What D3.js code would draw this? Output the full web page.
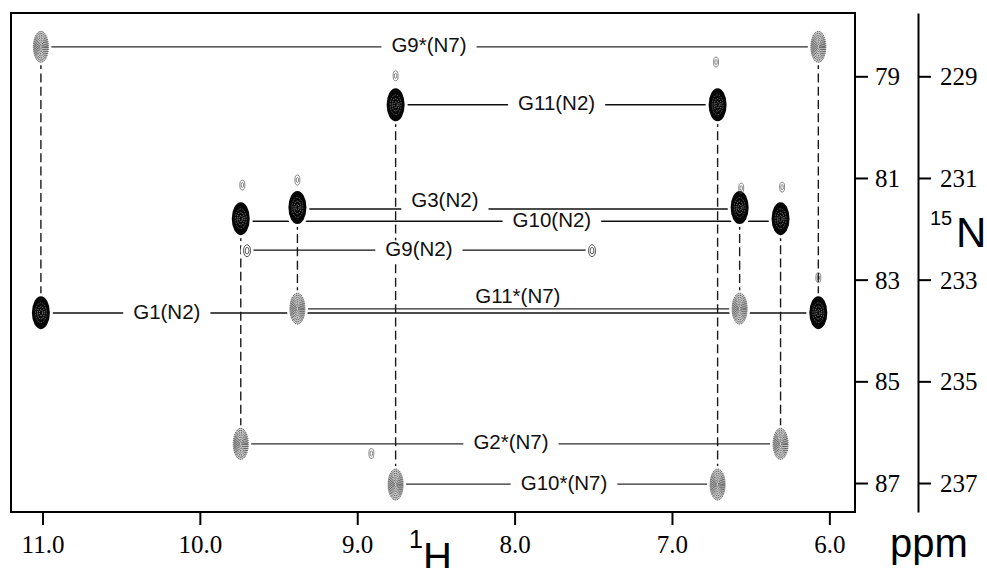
<!DOCTYPE html>
<html><head><meta charset="utf-8">
<script src="https://cdn.jsdelivr.net/npm/d3@7"></script>
<style>body{margin:0;background:#fff;} svg{display:block;}</style>
</head><body>
<svg id="c" width="987" height="568"></svg>
<script>
// ---------------- data ----------------
const hTicks = [11.0, 10.0, 9.0, 8.0, 7.0, 6.0];      // 1H ppm
const nTicks = [79, 81, 83, 85, 87];                  // 15N ppm (referenced)
const nTicksAlt = [229, 231, 233, 235, 237];          // 15N ppm (alternate scale)
const nAltOffset = 150;
const hExtent = [11.2, 5.837];
const nExtent = [77.755, 87.57];

// cross peaks: 1H shift, 15N shift, contour level
const peaks = [
  {id:"G9*a",  h:11.01, n:78.42, level:"weak"},
  {id:"G9*b",  h:6.07,  n:78.42, level:"weak"},
  {id:"G11a",  h:8.756, n:79.56, level:"strong"},
  {id:"G11b",  h:6.71,  n:79.56, level:"strong"},
  {id:"G3a",   h:9.38,  n:81.58, level:"strong"},
  {id:"G3b",   h:6.57,  n:81.58, level:"strong"},
  {id:"G10a",  h:9.74,  n:81.80, level:"strong"},
  {id:"G10b",  h:6.31,  n:81.80, level:"strong"},
  {id:"G9a",   h:9.70,  n:82.43, level:"faint"},
  {id:"G9b",   h:7.508, n:82.43, level:"faint"},
  {id:"G1a",   h:11.01, n:83.65, level:"strong"},
  {id:"G1b",   h:6.07,  n:83.65, level:"strong"},
  {id:"G11*a", h:9.38,  n:83.57, level:"weak"},
  {id:"G11*b", h:6.57,  n:83.57, level:"weak"},
  {id:"G2*a",  h:9.74,  n:86.23, level:"weak"},
  {id:"G2*b",  h:6.31,  n:86.23, level:"weak"},
  {id:"G10*a", h:8.756, n:87.03, level:"weak"},
  {id:"G10*b", h:6.71,  n:87.03, level:"weak"}
];
// minor unassigned peaks
const traces = [
  {h:8.756, n:78.99}, {h:6.72, n:78.72}, {h:9.73, n:81.14}, {h:9.38, n:81.04},
  {h:6.56, n:81.20}, {h:6.30, n:81.18}, {h:6.07, n:82.96}, {h:8.91, n:86.42}
];
// horizontal assignment connectors
const links = [
  {label:"G9*(N7)",  a:"G9*a",  b:"G9*b",  n:78.42,  labelH:8.544, labelN:78.42},
  {label:"G11(N2)",  a:"G11a",  b:"G11b",  n:79.56,  labelH:7.733, labelN:79.56},
  {label:"G3(N2)",   a:"G3a",   b:"G3b",   n:81.61,  labelH:8.443, labelN:81.47},
  {label:"G10(N2)",  a:"G10a",  b:"G10b",  n:81.85,  labelH:7.763, labelN:81.85},
  {label:"G9(N2)",   a:"G9a",   b:"G9b",   n:82.42,  labelH:8.608, labelN:82.42},
  {label:"G11*(N7)", a:"G11*a", b:"G11*b", n:83.575, labelH:7.979, labelN:83.36},
  {label:"G1(N2)",   a:"G1a",   b:"G1b",   n:83.655, labelH:10.21, labelN:83.66},
  {label:"G2*(N7)",  a:"G2*a",  b:"G2*b",  n:86.23,  labelH:8.023, labelN:86.22},
  {label:"G10*(N7)", a:"G10*a", b:"G10*b", n:87.02,  labelH:7.686, labelN:87.02}
];
// vertical dashed connectors (same proton)
const verticals = [
  ["G9*a","G1a"], ["G11a","G10*a"], ["G11b","G10*b"], ["G9*b","G1b"],
  ["G10a","G2*a"], ["G3a","G11*a"], ["G3b","G11*b"], ["G10b","G2*b"]
];

// ---------------- drawing ----------------
const svg = d3.select("#c");
const L = 11, T = 13, R = 855, B = 512;
const x = d3.scaleLinear().domain(hExtent).range([L, R]);
const y = d3.scaleLinear().domain(nExtent).range([T, B]);
const y2 = d3.scaleLinear().domain(nExtent.map(d => d + nAltOffset)).range([T, B]);
const byId = new Map(peaks.map(p => [p.id, p]));
const size = {strong:[9,16.5], weak:[7.5,15.5], faint:[3.5,6], trace:[2.5,5]};
const SANS = '"Liberation Sans"';
const SERIF = '"Liberation Serif"';

const gLines = svg.append("g");
links.forEach(l => {
  const pa = byId.get(l.a), pb = byId.get(l.b);
  const star = l.label.includes("*");
  gLines.append("line")
    .attr("x1", x(pa.h)).attr("x2", x(pb.h))
    .attr("y1", y(l.n)).attr("y2", y(l.n))
    .attr("stroke", star ? "#2a2a2a" : "#111")
    .attr("stroke-width", star ? 1.2 : 1.4);
});
verticals.forEach(([a, b]) => {
  const pa = byId.get(a), pb = byId.get(b);
  gLines.append("line")
    .attr("x1", x(pa.h)).attr("x2", x(pb.h))
    .attr("y1", y(pa.n)).attr("y2", y(pb.n))
    .attr("stroke", "#1a1a1a").attr("stroke-width", 1.4)
    .attr("stroke-dasharray", "9,4.3");
});

// white halos around peaks
const gHalo = svg.append("g");
peaks.forEach(p => {
  const [rx, ry] = size[p.level];
  gHalo.append("ellipse").attr("cx", x(p.h)).attr("cy", y(p.n))
    .attr("rx", rx + 3).attr("ry", ry + 3).attr("fill", "#fff");
});

// labels with white backing (cap-height band only)
const gLab = svg.append("g");
links.forEach(l => {
  const fs = 20.5;
  const base = y(l.labelN) + 0.27 * fs;
  const t = gLab.append("text")
    .attr("x", x(l.labelH)).attr("y", base)
    .attr("text-anchor", "middle")
    .style("font-family", SANS).style("font-size", fs + "px")
    .attr("fill", "#111").text(l.label);
  const bb = t.node().getBBox();
  gLab.insert("rect", () => t.node())
    .attr("x", bb.x - 10).attr("y", base - 0.75 * fs).attr("width", bb.width + 20)
    .attr("height", 0.97 * fs).attr("fill", "#fff");
});

// peaks
const gPk = svg.append("g");
function contour(cx, cy, rx, ry, k, stroke, w, dash) {
  gPk.append("ellipse").attr("cx", cx).attr("cy", cy)
    .attr("rx", rx * k).attr("ry", ry * k).attr("fill", "none")
    .attr("stroke", stroke).attr("stroke-width", w)
    .attr("stroke-dasharray", dash);
}
peaks.forEach(p => {
  const [rx, ry] = size[p.level];
  const cx = x(p.h), cy = y(p.n);
  if (p.level === "strong") {
    gPk.append("ellipse").attr("cx", cx).attr("cy", cy)
      .attr("rx", rx).attr("ry", ry).attr("fill", "#060606");
    contour(cx, cy, rx, ry, 0.6, "#777", 0.8, "1.5,1.2");
    contour(cx, cy, rx, ry, 0.38, "#aaa", 0.8, "1.2,1");
    contour(cx, cy, rx, ry, 0.18, "#ccc", 0.8, "1,1");
  } else if (p.level === "weak") {
    gPk.append("ellipse").attr("cx", cx).attr("cy", cy)
      .attr("rx", rx).attr("ry", ry).attr("fill", "#c8c8c8");
    [1, 0.86, 0.72, 0.58, 0.44, 0.3, 0.16].forEach(k =>
      contour(cx, cy, rx, ry, k, "#333", 0.9, "1.1,0.9"));
  } else {
    [1, 0.55].forEach(k => contour(cx, cy, rx, ry, k, "#444", 0.9, null));
  }
});
traces.forEach(p => {
  const [rx, ry] = size.trace;
  [1, 0.5].forEach(k => contour(x(p.h), y(p.n), rx, ry, k, "#555", 0.7, null));
});

// frame
svg.append("rect").attr("x", L).attr("y", T).attr("width", R - L).attr("height", B - T)
  .attr("fill", "none").attr("stroke", "#000").attr("stroke-width", 2);

// axes: tick marks via d3 axis, serif labels appended per tick
function axisGroup(gen, tx, ty) {
  const g = svg.append("g").attr("transform", `translate(${tx},${ty})`).call(gen);
  g.attr("font-family", null).attr("font-size", null);
  g.selectAll(".tick line").attr("stroke", "#000").attr("stroke-width", 2);
  g.selectAll(".tick text").remove();
  return g;
}
function tickText(g, fmt, px, py, anchor) {
  g.selectAll(".tick").each(function(d) {
    d3.select(this).append("text")
      .attr("x", px).attr("y", py).attr("text-anchor", anchor)
      .style("font-family", SERIF).style("font-size", "25px")
      .attr("fill", "#000").text(fmt(d));
  });
}

const ax = axisGroup(d3.axisBottom(x).tickValues(hTicks).tickSize(13).tickSizeOuter(0), 0, B);
ax.select(".domain").remove();
tickText(ax, d3.format(".1f"), 0, 41, "middle");

const ay = axisGroup(d3.axisRight(y).tickValues(nTicks).tickSize(13).tickSizeOuter(0), R, 0);
ay.select(".domain").remove();
tickText(ay, String, 20, 8.5, "start");

const ay2 = axisGroup(d3.axisRight(y2).tickValues(nTicksAlt).tickSize(13).tickSizeOuter(0), 918, 0);
ay2.select(".domain").attr("stroke", "#000").attr("stroke-width", 2);
tickText(ay2, String, 22, 8.5, "start");

// axis titles
function txt(xp, yp, s, fs) {
  svg.append("text").attr("x", xp).attr("y", yp).text(s)
    .style("font-family", SANS).style("font-size", fs + "px").attr("fill", "#000");
}
txt(409, 548, "1", 25);
txt(423, 571, "H", 40);
txt(930, 225, "15", 20);
txt(956, 247, "N", 42);
txt(890, 557, "ppm", 40);
</script>
</body></html>
